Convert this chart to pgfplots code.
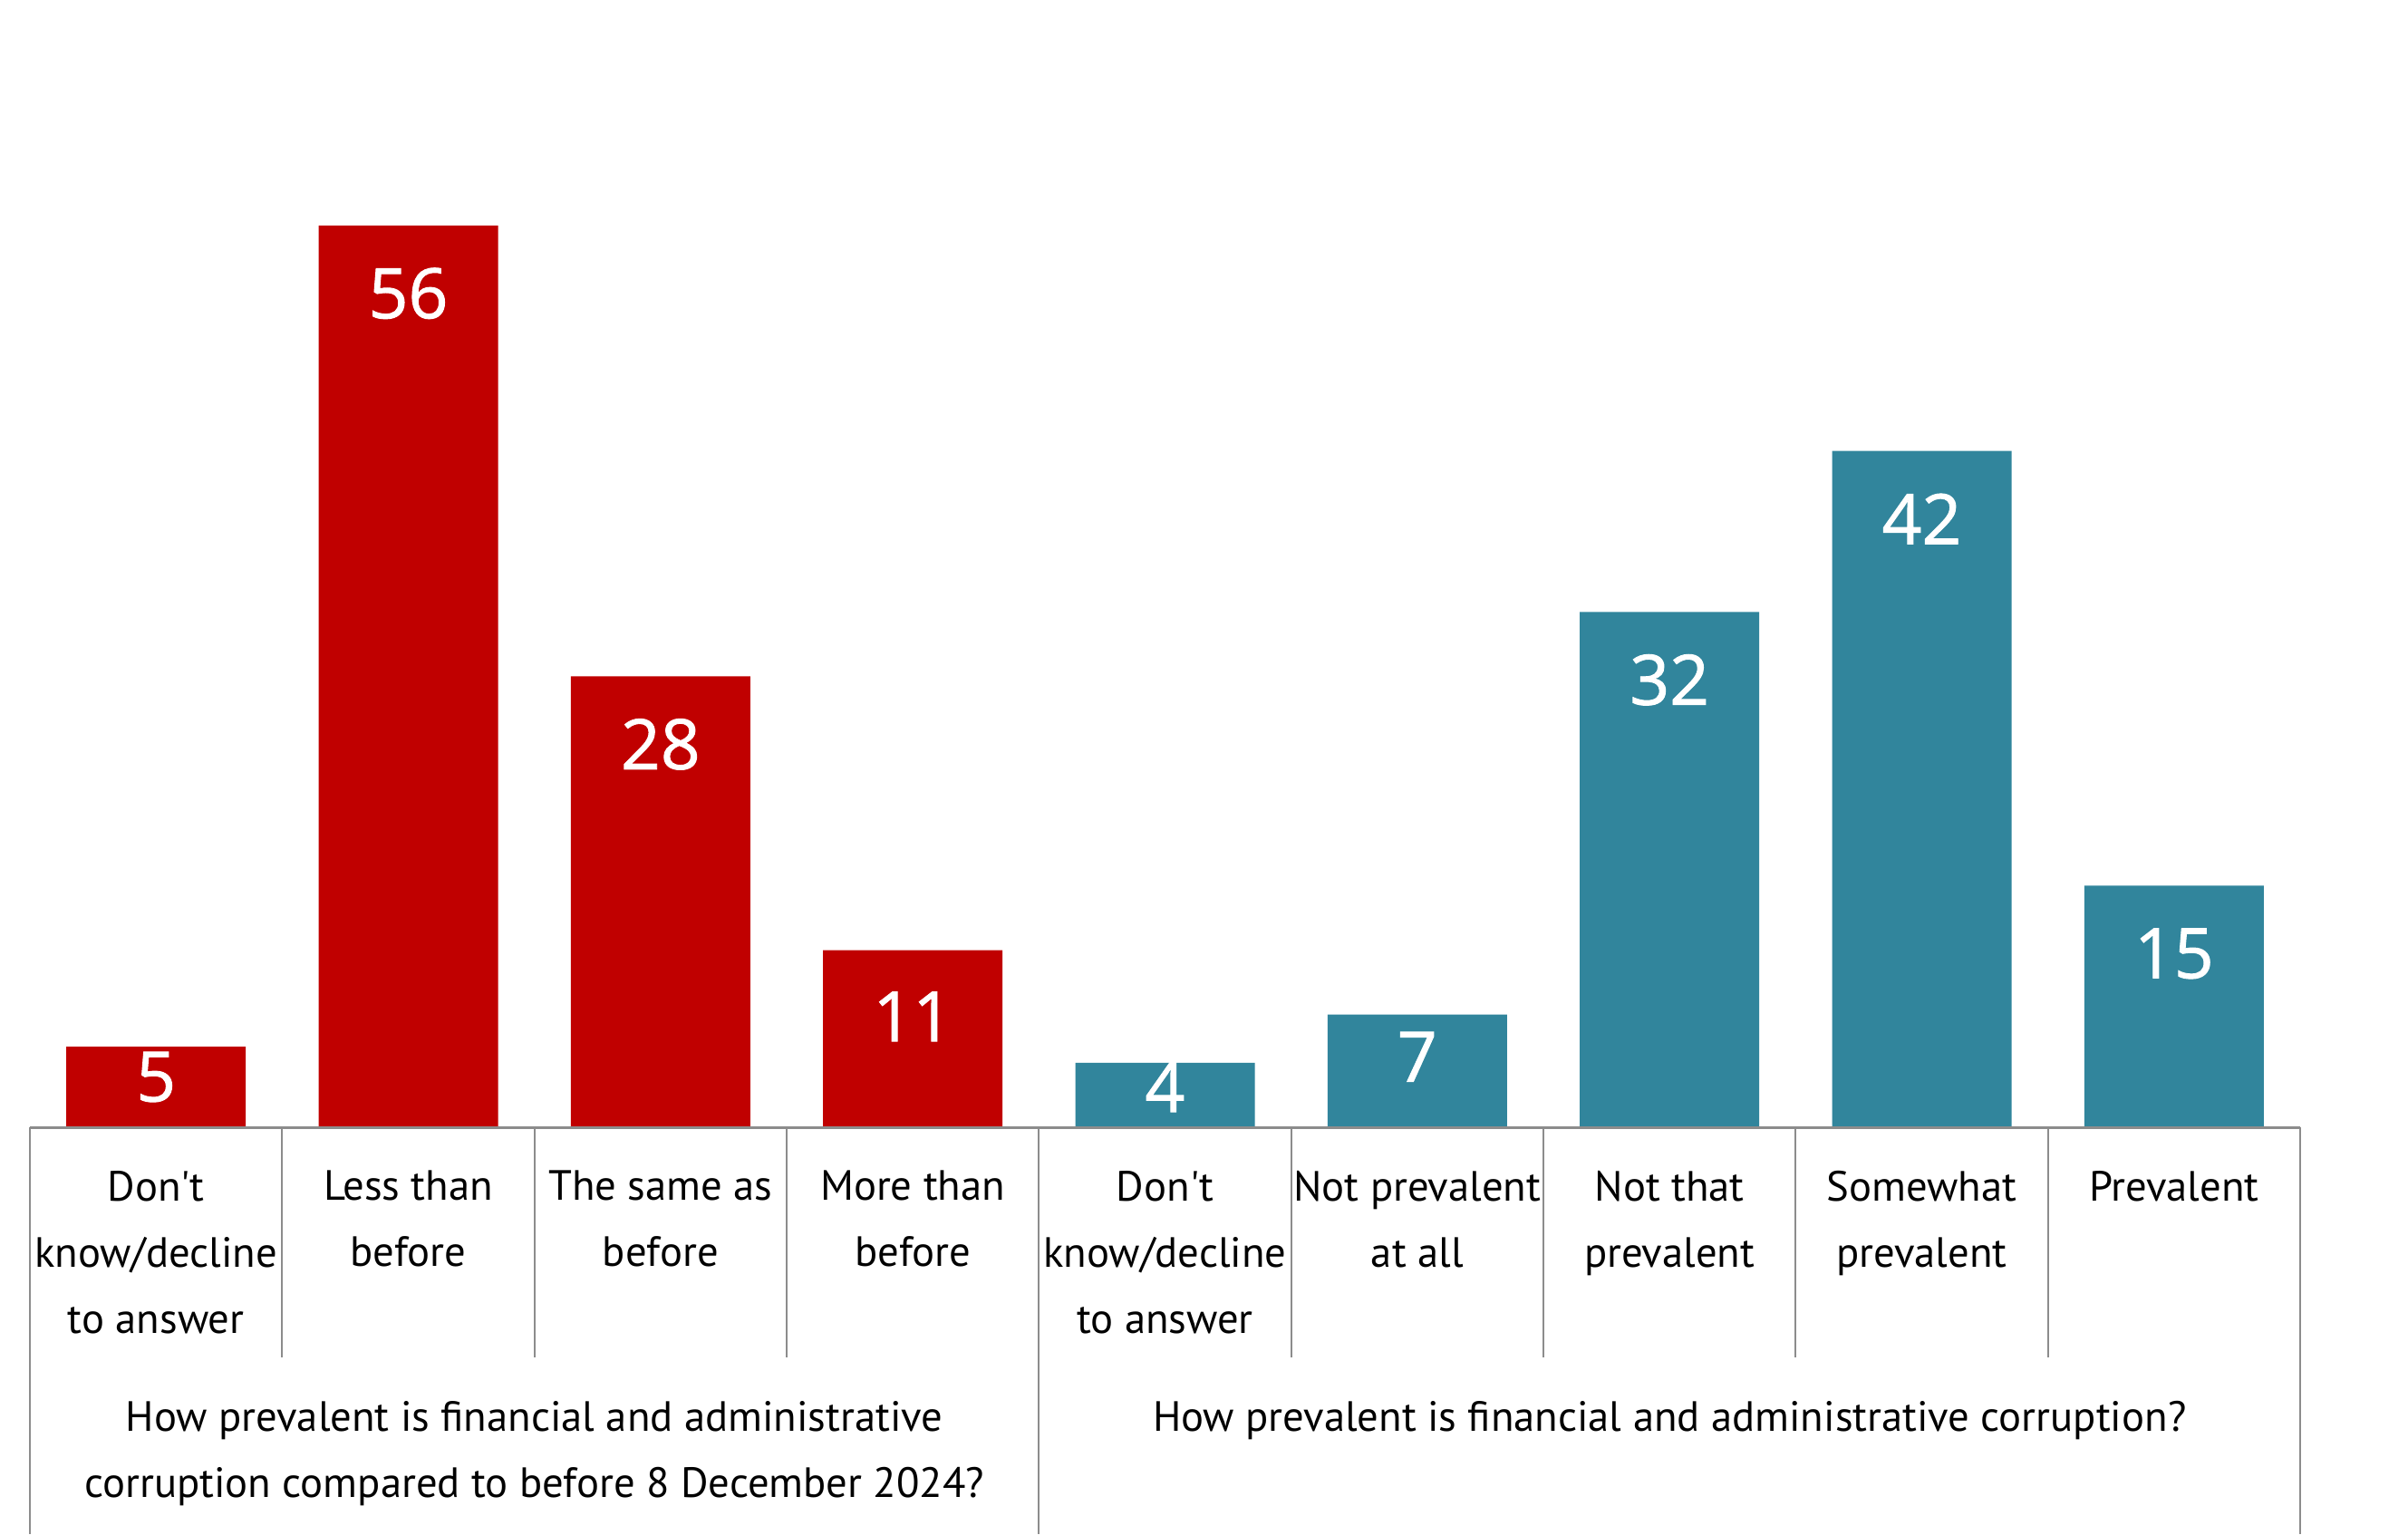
\documentclass[border=0pt]{standalone}
\usepackage{fontspec}
\setmainfont{PT Sans}
\newfontfamily\valfont[FakeBold=1.2]{Open Sans}
\usepackage{pgfplots}
\pgfplotsset{compat=1.18}

\definecolor{barred}{RGB}{192,0,0}
\definecolor{barteal}{RGB}{49,133,156}
\definecolor{linegray}{RGB}{140,140,140}

\begin{document}
\begin{tikzpicture}
  \begin{axis}[
      scale only axis,
      width=751.5pt, height=373.2pt,
      xmin=-0.5, xmax=8.5,
      ymin=0, ymax=70,
      axis line style={draw=none},
      ytick=\empty,
      xtick={0,...,8},
      major tick length=0pt,
      xticklabels={
        Don\textquotesingle t\\know/decline\\to answer,
        Less than\\before,
        The same as\\before,
        More than\\before,
        Don\textquotesingle t\\know/decline\\to answer,
        Not prevalent\\at all,
        Not that\\prevalent,
        Somewhat\\prevalent,
        Prevalent},
      xticklabel style={font=\fontsize{14}{21.9}\selectfont, align=center,
        anchor=north, inner sep=0pt, yshift=-14.2pt},
      ybar, bar width=59.4pt, bar shift=0pt,
      clip=false,
      nodes near coords,
      /pgf/number format/assume math mode=true,
      visualization depends on={rawy \as \rawy},
      every node near coord/.append style={font=\valfont\fontsize{23}{28}\selectfont,
        text=white, anchor=center, yshift={-min(22.5,2*\rawy)}},
    ]
    \addplot[fill=barred, draw=none] coordinates {(0,5) (1,56) (2,28) (3,11)};
    \addplot[fill=barteal, draw=none] coordinates {(4,4) (5,7) (6,32) (7,42) (8,15)};

    % baseline and cell borders of the label table
    \draw[linegray, line width=0.9pt] (axis cs:-0.5,0) -- (axis cs:8.5,0);
    \pgfplotsinvokeforeach{0.5,1.5,2.5,4.5,5.5,6.5,7.5}{
      \draw[linegray, line width=0.6pt] (axis cs:#1,0) -- ([yshift=-76.2pt]axis cs:#1,0);
    }
    \pgfplotsinvokeforeach{-0.5,3.5,8.5}{
      \draw[linegray, line width=0.6pt] (axis cs:#1,0) -- ([yshift=-134.7pt]axis cs:#1,0);
    }

    \node[font=\fontsize{14}{21.9}\selectfont, align=center, anchor=north, inner sep=0pt]
      at ([yshift=-90.4pt]axis cs:1.5,0)
      {How prevalent is financial and administrative\\corruption compared to before 8 December 2024?};
    \node[font=\fontsize{14}{21.9}\selectfont, align=center, anchor=north, inner sep=0pt]
      at ([yshift=-90.4pt]axis cs:6,0)
      {How prevalent is financial and administrative corruption?};

    \coordinate (ll) at (rel axis cs:0,0);
    \coordinate (ur) at (rel axis cs:1,1);
  \end{axis}
  \pgfresetboundingbox
  \path ([shift={(-9.9pt,-134.7pt)}]ll) rectangle ([xshift=35.7pt]ur);
\end{tikzpicture}
\end{document}
